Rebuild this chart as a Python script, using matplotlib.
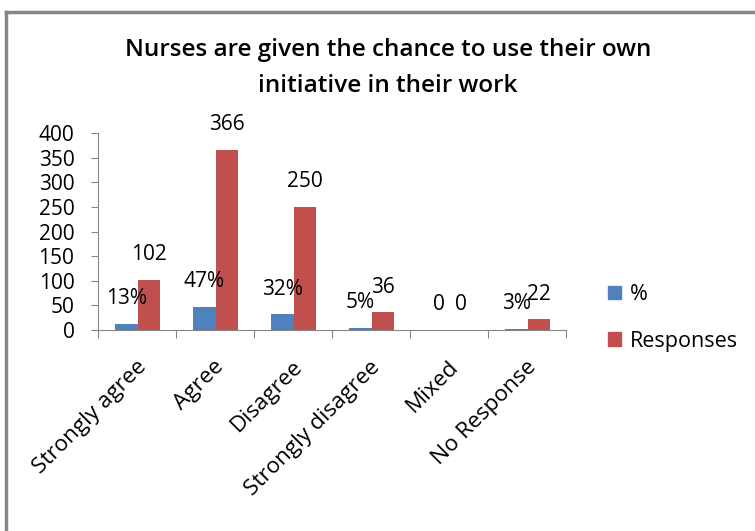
import matplotlib
matplotlib.use("Agg")
import matplotlib.pyplot as plt
from matplotlib.lines import Line2D
from matplotlib.patches import Patch

plt.rcParams['font.family'] = ['Open Sans', 'DejaVu Sans']

categories = ["Strongly agree", "Agree", "Disagree", "Strongly disagree", "Mixed", "No Response"]
pct_values = [13, 47, 32, 5, 0, 3]
responses = [102, 366, 250, 36, 0, 22]
series_names = ["%", "Responses"]
yticks = [0, 50, 100, 150, 200, 250, 300, 350, 400]
title = "Nurses are given the chance to use their own\ninitiative in their work"

blue = "#4F81BD"
red = "#C0504D"
axis_gray = "#868686"

W, H = 755, 531
fig = plt.figure(figsize=(W / 100, H / 100), dpi=100)
ax = fig.add_axes([98 / W, 1 - 330 / H, (566 - 98) / W, (330 - 133) / H])

x = list(range(len(categories)))
bw = 0.29
xb = [i - bw / 2 + 0.01 for i in x]
xr = [i + bw / 2 + 0.01 for i in x]
ax.bar(xb, pct_values, width=bw, color=blue, label=series_names[0])
ax.bar(xr, responses, width=bw, color=red, label=series_names[1])

fs = 15
for xi, v in zip(xb, pct_values):
    ax.annotate(f"{v}%" if v else "0", (xi, v), xytext=(0, 18), textcoords="offset points",
                ha="center", va="center", fontsize=fs)
for xi, v in zip(xr, responses):
    ax.annotate(f"{v}", (xi, v), xytext=(0, 18), textcoords="offset points",
                ha="center", va="center", fontsize=fs)

ax.set_xlim(-0.5, len(categories) - 0.5)
ax.set_ylim(0, 400)
ax.set_yticks(yticks)
ax.tick_params(axis="y", labelsize=fs, length=5, color=axis_gray, pad=12)
ax.set_xticks([i - 0.5 for i in range(len(categories) + 1)])
ax.set_xticklabels([])
ax.tick_params(axis="x", length=6, color=axis_gray)
for s in ["top", "right"]:
    ax.spines[s].set_visible(False)
for s in ["left", "bottom"]:
    ax.spines[s].set_color(axis_gray)

for i, c in enumerate(categories):
    ax.annotate(c, (i, 0), xycoords=("data", "axes fraction"), xytext=(-1, -19),
                textcoords="offset points", rotation=45, rotation_mode="anchor",
                ha="right", va="top", fontsize=16.2)

fig.text(388 / W, 1 - 68 / H, title, ha="center", va="center", fontsize=17.5,
         fontweight="semibold", linespacing=1.68)

handles = [Patch(color=blue), Patch(color=red)]
fig.legend(handles, series_names, loc="center left", bbox_to_anchor=(602 / W, 1 - 318 / H),
           frameon=False, fontsize=15.5, handlelength=0.6, handleheight=0.6,
           handletextpad=0.4, labelspacing=1.2, borderaxespad=0, borderpad=0.3)

# outer frame (top and left only)
fig.add_artist(Line2D([6 / W, 1], [1 - 12 / H, 1 - 12 / H], color=axis_gray, lw=2.5))
fig.add_artist(Line2D([6 / W, 6 / W], [0, 1 - 12 / H], color=axis_gray, lw=2.5))

fig.savefig("out.png", dpi=100)
